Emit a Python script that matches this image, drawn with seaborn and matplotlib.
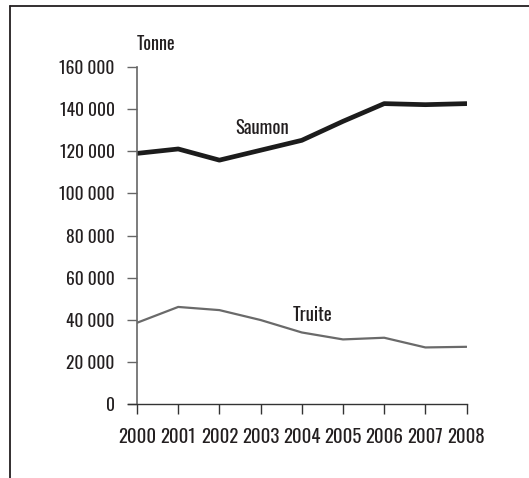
import pandas as pd
import seaborn as sns
import matplotlib.pyplot as plt
from matplotlib.lines import Line2D

# values (tonnes)
years = [2000, 2001, 2002, 2003, 2004, 2005, 2006, 2007, 2008]
saumon = [119000, 121100, 115800, 120500, 125200, 134200, 142600, 142100, 142600]
truite = [38700, 46200, 44700, 40000, 34100, 30800, 31600, 27000, 27300]
y_ticks = [0, 20000, 40000, 60000, 80000, 100000, 120000, 140000, 160000]

data = pd.DataFrame({
    'year': years * 2,
    'tonnes': saumon + truite,
    'species': ['Saumon'] * len(years) + ['Truite'] * len(years),
})

sns.set_style('white')
plt.rcParams['font.family'] = ['Oswald', 'Roboto Condensed', 'DejaVu Sans']
plt.rcParams['font.weight'] = 500

fig = plt.figure(figsize=(5.29, 4.78), dpi=100)
ax = fig.add_axes([0.259, 0.154, 0.623, 0.706])

sns.lineplot(data=data, x='year', y='tonnes', hue='species', size='species',
             palette={'Saumon': '#1c1c1c', 'Truite': '#6a6a6a'},
             sizes={'Saumon': 3.4, 'Truite': 1.6},
             legend=False, ax=ax)

ax.set_xlim(2000, 2008)
ax.set_ylim(0, 160000)
ax.set_xticks(years)
ax.set_xticklabels([str(y) for y in years])
ax.set_yticks(y_ticks)
ax.set_yticklabels([f'{v:,}'.replace(',', ' ') for v in y_ticks])
ax.set_xlabel('')
ax.set_ylabel('')

for side in ['top', 'right']:
    ax.spines[side].set_visible(False)
ax.spines['left'].set_color('#666666')
ax.spines['left'].set_linewidth(1.2)
ax.spines['bottom'].set_color('#333333')
ax.spines['bottom'].set_linewidth(1.0)

ax.tick_params(axis='y', direction='out', length=7, width=1, color='#666666',
               pad=9, labelsize=12.5, labelcolor='#231f20', left=True)
ax.tick_params(axis='x', direction='out', length=7, width=1, color='#333333',
               pad=10, labelsize=13.5, labelcolor='#231f20', bottom=True)

# bottom spine runs left to meet the 0 tick
ax.spines['bottom'].set_bounds(2000 - 9 / 41.2, 2008)

ax.text(2000, 171000, 'Tonne', fontsize=13, color='#231f20', ha='left', va='center', clip_on=False)
ax.text(2003.03, 131000, 'Saumon', fontsize=13.5, color='#231f20', ha='center', va='center')
ax.text(2004.25, 42300, 'Truite', fontsize=13.5, color='#231f20', ha='center', va='center')

# frame around the figure: top and left edges only
fig.add_artist(Line2D([10 / 529, 1], [1 - 6 / 478, 1 - 6 / 478], color='#231f20', lw=1.3,
                      transform=fig.transFigure))
fig.add_artist(Line2D([10 / 529, 10 / 529], [0, 1 - 6 / 478], color='#231f20', lw=1.3,
                      transform=fig.transFigure))

fig.savefig('out.png', dpi=100)
